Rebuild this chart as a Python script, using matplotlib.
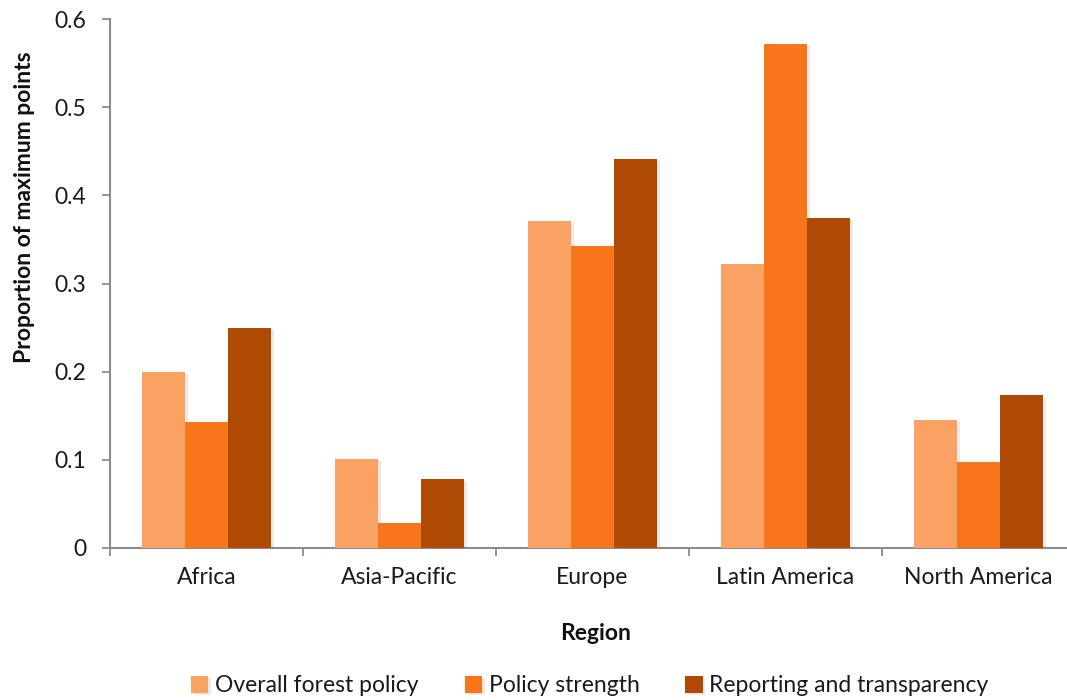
import matplotlib
matplotlib.use("Agg")
import matplotlib.pyplot as plt
import matplotlib.patheffects as pe
import numpy as np

plt.rcParams['font.family'] = ['Lato', 'DejaVu Sans']

regions = ["Africa", "Asia-Pacific", "Europe", "Latin America", "North America"]
series_names = ["Overall forest policy", "Policy strength", "Reporting and transparency"]
overall_forest_policy = [0.200, 0.101, 0.371, 0.322, 0.145]
policy_strength = [0.143, 0.028, 0.342, 0.572, 0.097]
reporting_transparency = [0.250, 0.078, 0.441, 0.374, 0.173]
y_ticks = [0, 0.1, 0.2, 0.3, 0.4, 0.5, 0.6]
y_tick_labels = ["0", "0.1", "0.2", "0.3", "0.4", "0.5", "0.6"]

colors = ["#F9A264", "#F7761A", "#AE4A04"]
axis_grey = "#8C8C8C"
fs = 16.5

fig = plt.figure(figsize=(10.67, 7.0), dpi=100)
ax = fig.add_axes([110 / 1067, 1 - 548 / 700, 965 / 1067, 529 / 700])

x = np.arange(len(regions))
width = 0.223
shadow = [pe.SimplePatchShadow(offset=(2, -1.5), alpha=0.12, shadow_rgbFace="#555555"), pe.Normal()]
for i, (vals, name, c) in enumerate(zip(
        [overall_forest_policy, policy_strength, reporting_transparency], series_names, colors)):
    bars = ax.bar(x + (i - 1) * width, vals, width, color=c, label=name, linewidth=0, zorder=3)
    for b in bars:
        b.set_path_effects(shadow)

ax.set_xlim(-0.5, len(regions) - 0.5)
ax.set_ylim(0, 0.6)

# category boundaries carry the tick marks, labels sit at the centres
ax.set_xticks(np.arange(-0.5, len(regions)), labels=[""] * (len(regions) + 1))
ax.set_xticks(x, labels=regions, minor=True)
ax.tick_params(axis='x', which='major', direction='out', length=6, width=1.3, color=axis_grey)
ax.tick_params(axis='x', which='minor', length=0, pad=14, labelsize=fs, labelcolor="#1a1a1a")

ax.set_yticks(y_ticks, labels=y_tick_labels)
ax.tick_params(axis='y', direction='out', length=6, width=1.3, color=axis_grey,
               pad=11, labelsize=fs, labelcolor="#1a1a1a")

for s in ["top", "right"]:
    ax.spines[s].set_visible(False)
for s in ["left", "bottom"]:
    ax.spines[s].set_color(axis_grey)
    ax.spines[s].set_linewidth(1.5)

ax.set_ylabel("Proportion of maximum points", fontsize=fs, fontweight='bold', color="#111111")
ax.yaxis.set_label_coords(-0.078, 0.645)
fig.text(596 / 1067, 1 - 633 / 700, "Region", ha='center', va='center',
         fontsize=fs, fontweight='bold', color="#111111")

fig.legend(loc='center', bbox_to_anchor=(590 / 1067, 1 - 686 / 700), ncol=3, frameon=False,
           fontsize=fs, handlelength=0.75, handleheight=0.75, handletextpad=0.3,
           columnspacing=2.0, labelcolor="#1a1a1a")

fig.savefig("out.png", dpi=100)
